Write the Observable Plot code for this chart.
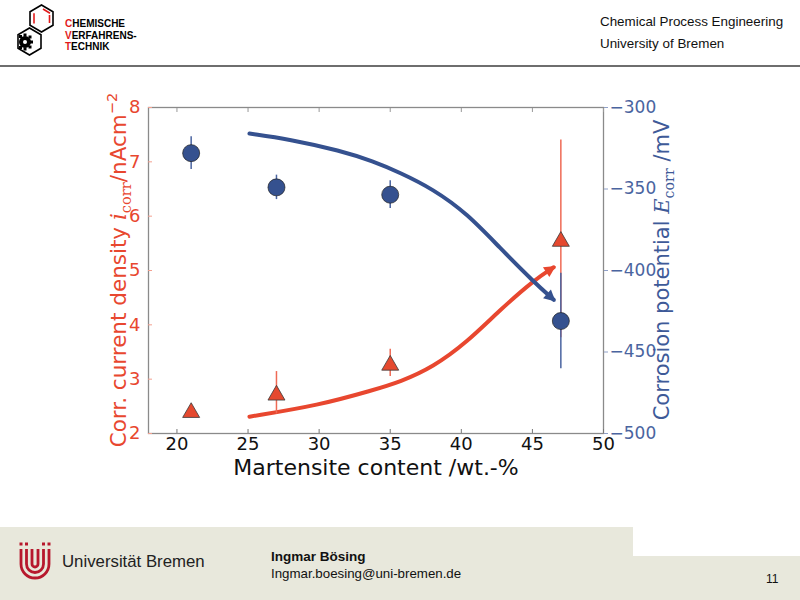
<!DOCTYPE html>
<html><head><meta charset="utf-8">
<script src="https://cdn.jsdelivr.net/npm/d3@7"></script>
<script src="https://cdn.jsdelivr.net/npm/@observablehq/plot@0.6"></script>
<style>
body{margin:0;width:800px;height:600px;position:relative;overflow:hidden;background:#fff;font-family:"Liberation Sans",Arial,sans-serif;}
.abs{position:absolute;white-space:nowrap;}
#chart{position:absolute;left:0;top:70px;width:800px;height:420px;}
#chart svg{position:absolute;left:0;top:0;}
.title{position:absolute;white-space:nowrap;font-family:"DejaVu Sans";transform:translate(-50%,-50%);}
.rot{transform:translate(-50%,-50%) rotate(-90deg);}
.m{font-family:"DejaVu Serif";}
sub,sup{font-size:0.68em;line-height:0;}
</style></head>
<body>
<!-- header -->
<svg class="abs" style="left:0;top:0" width="160" height="60">
  <polygon points="41.5,5 53,11.8 53,25.2 41.5,32 30,25.2 30,11.8" fill="none" stroke="#000" stroke-width="1.6"/>
  <line x1="43" y1="9" x2="50" y2="13.3" stroke="#e21b1b" stroke-width="1.6"/>
  <line x1="49.5" y1="15" x2="49.5" y2="23" stroke="#e21b1b" stroke-width="1.6"/>
  <line x1="34" y1="13.3" x2="34" y2="23.5" stroke="#e21b1b" stroke-width="1.6"/>
  <polygon points="29.5,28 41,34.8 41,48.2 29.5,55 18,48.2 18,34.8" fill="none" stroke="#000" stroke-width="1.6"/>
  <circle cx="25" cy="42" r="6" fill="#000"/>
  <g fill="#000"><rect x="23.5" y="33.5" width="3" height="3"/><rect x="23.5" y="47.5" width="3" height="3"/><rect x="30" y="40.5" width="3" height="3"/><rect x="19" y="35" width="3" height="3"/><rect x="19" y="46" width="3" height="3"/><rect x="28.5" y="35.5" width="3" height="3"/><rect x="28.5" y="45.5" width="3" height="3"/></g>
  <circle cx="25" cy="42" r="2" fill="#fff"/>
  <text x="65" y="27" font-family="Liberation Sans" font-weight="bold" font-size="10"><tspan fill="#e21b1b">C</tspan>HEMISCHE</text>
  <text x="65" y="38.5" font-family="Liberation Sans" font-weight="bold" font-size="10"><tspan fill="#e21b1b">V</tspan>ERFAHRENS-</text>
  <text x="65" y="50" font-family="Liberation Sans" font-weight="bold" font-size="10"><tspan fill="#e21b1b">T</tspan>ECHNIK</text>
</svg>
<div class="abs" style="left:600px;top:14px;font-size:13.4px;color:#111">Chemical Process Engineering</div>
<div class="abs" style="left:600px;top:36px;font-size:13.4px;color:#111">University of Bremen</div>
<div class="abs" style="left:0;top:65px;width:800px;height:2px;background:#6e6e6e"></div>

<!-- footer -->
<div class="abs" style="left:0;top:527px;width:800px;height:73px;background:#e8e8dc"></div>
<div class="abs" style="left:633px;top:527px;width:167px;height:29px;background:#fff"></div>
<svg class="abs" style="left:14px;top:539px" width="50" height="48">
  <g fill="none" stroke="#b7182d" stroke-width="2.8">
    <path d="M7,10 V25 a14,14 0 0 0 28,0 V10"/>
    <path d="M12.5,10 V25 a8.5,8.5 0 0 0 17,0 V10"/>
    <path d="M18,10 V25 a3,3 0 0 0 6,0 V10"/>
  </g>
  <g fill="#b7182d"><rect x="5.5" y="3.5" width="3" height="3"/><rect x="11" y="3.5" width="3" height="3"/><rect x="28" y="3.5" width="3" height="3"/><rect x="33.5" y="3.5" width="3" height="3"/></g>
</svg>
<div class="abs" style="left:62px;top:552px;font-size:16.8px;color:#222">Universität Bremen</div>
<div class="abs" style="left:271px;top:549px;font-size:13.5px;font-weight:bold;color:#111">Ingmar Bösing</div>
<div class="abs" style="left:271px;top:566px;font-size:13.3px;color:#111">Ingmar.boesing@uni-bremen.de</div>
<div class="abs" style="left:766px;top:572px;font-size:12px;color:#111">11</div>

<div id="chart"></div>

<div class="title rot" style="left:118px;top:270px;font-size:21.5px;color:#e8472f">Corr. current density <i class="m">i</i><sub class="m">corr</sub>/nAcm<sup>−2</sup></div>
<div class="title rot" style="left:662px;top:270px;font-size:21px;color:#3e5a98">Corrosion potential <i class="m">E</i><sub class="m">corr</sub> /mV</div>
<div class="title" style="left:376px;top:467px;font-size:22px;color:#111">Martensite content /wt.-%</div>

<script>
// measured data
const martensite = [21, 27, 35, 47];
const icorr = [2.43, 2.75, 3.30, 5.58];
const icorrErr = [0.05, 0.39, 0.25, 1.82];
const ecorr = [-328, -349, -353.5, -431];
const ecorrErr = [10, 7.5, 8.5, 29.3];
// trend arrows
const trendIX = [25.1, 30.0, 33.8, 35.7, 38.0, 40.4, 42.7, 45.1, 46.5];
const trendIY = [2.31, 2.52, 2.80, 2.95, 3.22, 3.68, 4.27, 4.82, 5.06];
const trendEX = [25.1, 27.9, 31.5, 33.8, 35.7, 38.0, 40.4, 42.7, 45.1, 46.5];
const trendEY = [-316, -319.5, -326.5, -333, -340, -350, -365, -386, -407, -418];
// ticks
const xTicks = [20, 25, 30, 35, 40, 45, 50];
const iTicks = [2, 3, 4, 5, 6, 7, 8];
const eTicks = [-300, -350, -400, -450, -500];

const RED = "#e8472f", RED_LIGHT = "#ef6a55", BLUE = "#35518f", BLUE_LABEL = "#4a64a0";
const pts = d3.range(martensite.length);
const ti = d3.range(trendIX.length);
const te = d3.range(trendEX.length);
const fmtMinus = d => d < 0 ? "\u2212" + Math.abs(d) : String(d);

const common = {
  width: 800, height: 420,
  marginLeft: 148, marginRight: 197, marginTop: 37, marginBottom: 57,
  style: {background: "transparent", fontFamily: "DejaVu Sans", overflow: "visible"}
};

const p1 = Plot.plot({
  ...common,
  x: {domain: [18, 50]},
  y: {domain: [2, 8]},
  marks: [
    Plot.frame({stroke: "#8a8a8a", strokeWidth: 1.3}),
    Plot.axisX({anchor: "bottom", ticks: xTicks, tickSize: 0, tickPadding: 4, fontSize: 18, fill: "#111", tickFormat: d => d, label: null}),
    Plot.axisX({anchor: "bottom", ticks: xTicks, tickSize: -4, stroke: "#777", tickFormat: () => "", label: null}),
    Plot.axisX({anchor: "top", ticks: xTicks, tickSize: -4, stroke: "#999", tickFormat: () => "", label: null}),
    Plot.axisY({anchor: "left", ticks: iTicks, tickSize: 0, tickPadding: 8, fontSize: 18, fill: RED, tickFormat: d => d, label: null}),
    Plot.axisY({anchor: "left", ticks: iTicks, tickSize: -4, stroke: "#f3a090", tickFormat: () => "", label: null}),
    Plot.line(ti, {x: i => trendIX[i], y: i => trendIY[i], curve: "basis", stroke: RED, strokeWidth: 4, markerEnd: "arrow"}),
    Plot.ruleX(pts, {x: i => martensite[i], y1: i => icorr[i] - icorrErr[i], y2: i => icorr[i] + icorrErr[i], stroke: RED_LIGHT, strokeWidth: 1.5}),
    Plot.dot(pts, {x: i => martensite[i], y: i => icorr[i], symbol: "triangle", r: 6.3, dy: 2.4, fill: "#e5492f", stroke: "#3a3a3a", strokeWidth: 0.8})
  ]
});

const p2 = Plot.plot({
  ...common,
  x: {domain: [18, 50], axis: null},
  y: {domain: [-500, -300]},
  marks: [
    Plot.axisY({anchor: "right", ticks: eTicks, tickSize: 4, tickPadding: 2, fontSize: 17, fill: BLUE_LABEL, stroke: "#8fa0c8", tickFormat: fmtMinus, label: null}),
    Plot.line(te, {x: i => trendEX[i], y: i => trendEY[i], curve: "basis", stroke: BLUE, strokeWidth: 4, markerEnd: "arrow"}),
    Plot.ruleX(pts, {x: i => martensite[i], y1: i => ecorr[i] - ecorrErr[i], y2: i => ecorr[i] + ecorrErr[i], stroke: "#4a64a0", strokeWidth: 1.5}),
    Plot.dot(pts, {x: i => martensite[i], y: i => ecorr[i], r: 8.5, fill: BLUE, stroke: "#222", strokeWidth: 0.7})
  ]
});

function fillArrows(svg) {
  d3.select(svg).selectAll("marker").each(function () {
    const m = d3.select(this);
    const c = m.attr("stroke");
    m.attr("fill", c).attr("stroke", "none");
    m.selectAll("path").attr("d", "M-3.4,-2.2L0.9,0L-3.4,2.2Z");
  });
}
fillArrows(p1); fillArrows(p2);

const chart = document.getElementById("chart");
chart.appendChild(p1);
chart.appendChild(p2);
</script>
</body></html>
